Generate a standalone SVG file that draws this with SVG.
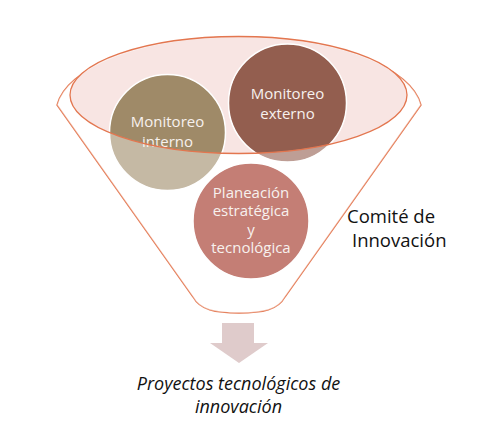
<svg xmlns="http://www.w3.org/2000/svg" width="486" height="435" viewBox="0 0 486 435">
<style>
.line{fill:none;stroke:#E3764F;stroke-width:1.3}
.ct{font-family:"Open Sans","Liberation Sans",sans-serif;font-size:15px;fill:#F7F1EE;text-anchor:middle}
.lbl{font-family:"Open Sans","Liberation Sans",sans-serif;font-size:18.5px;fill:#111}
.out{font-family:"Open Sans","Liberation Sans",sans-serif;font-size:18px;font-style:italic;fill:#111;text-anchor:middle}
.circ{stroke:#FFFFFF;stroke-width:1.5}
</style>
<rect width="486" height="435" fill="#FFFFFF"/>
<g id="funnel">
<path id="funnel-body" d="M57,105 A183,76 0 0 1 421,105 L285,297 C278,310 263,313 239,313 C215,313 200,310 193,297 Z" fill="#FFFFFF" class="line"/>
<ellipse id="funnel-mouth" cx="238.5" cy="95" rx="168.5" ry="58.5" fill="#F8E5E3"/>
</g>
<g id="node-interno">
<circle class="circ" cx="167.5" cy="132.5" r="58" fill="#9F8A68"/>
<text class="ct" x="167.5" y="127">Monitoreo</text>
<text class="ct" x="167.5" y="147">interno</text>
</g>
<g id="node-externo">
<circle class="circ" cx="287.5" cy="103" r="59" fill="#935E4F"/>
<text class="ct" x="287.5" y="99">Monitoreo</text>
<text class="ct" x="287.5" y="119">externo</text>
</g>
<path id="funnel-glass" d="M57,105 A183,76 0 0 1 421,105 L285,297 C278,310 263,313 239,313 C215,313 200,310 193,297 Z M70,95 A168.5,58.5 0 0 0 407,95 A168.5,58.5 0 0 0 70,95 Z" fill="#FFFFFF" fill-opacity="0.4" fill-rule="evenodd"/>
<ellipse id="funnel-rim" class="line" cx="238.5" cy="95" rx="168.5" ry="58.5"/>
<g id="node-planeacion">
<circle class="circ" cx="251" cy="221" r="58" fill="#C47E75"/>
<text class="ct" x="251" y="198">Planeación</text>
<text class="ct" x="251" y="216">estratégica</text>
<text class="ct" x="251" y="234.5">y</text>
<text class="ct" x="251" y="253">tecnológica</text>
</g>
<g id="node-comite">
<text class="lbl" x="347" y="223">Comité de</text>
<text class="lbl" x="352" y="247">Innovación</text>
</g>
<g id="connectors">
<polygon points="222,323 254,323 254,343 268,343 239,363 210,343 222,343" fill="#DFCBCB"/>
</g>
<g id="node-proyectos">
<text class="out" x="238.5" y="390">Proyectos tecnológicos de</text>
<text class="out" x="238.5" y="412.5">innovación</text>
</g>
</svg>
